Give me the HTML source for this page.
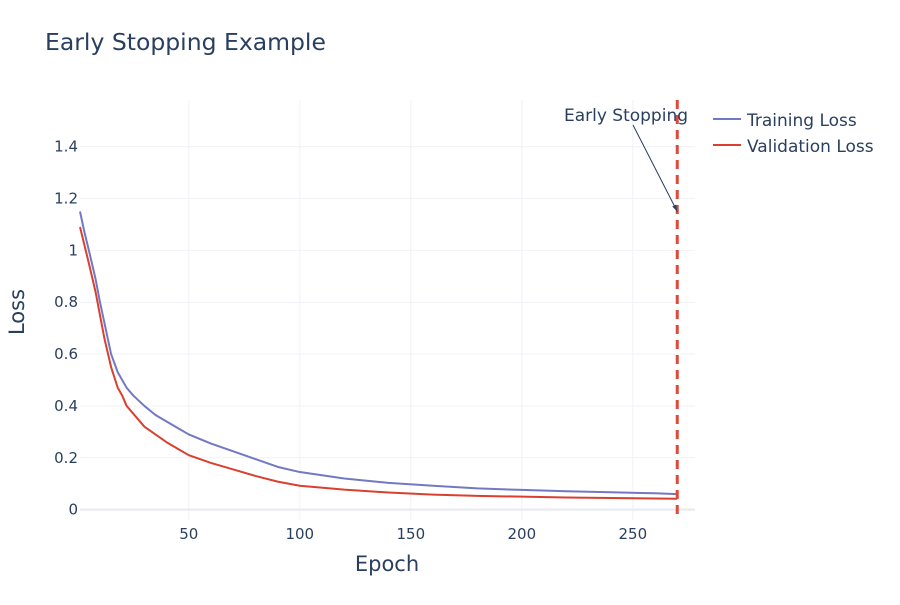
<!DOCTYPE html>
<html><head><meta charset="utf-8"><style>
body{margin:0;background:#fff;}
svg{font-family:"DejaVu Sans","Liberation Sans",sans-serif;}
</style></head><body>
<svg id="chart" width="900" height="600">
<rect width="900" height="600" fill="#fff"/>
<text x="45" y="50" font-size="23.5" fill="#2a3f5f">Early Stopping Example</text>
<g id="grid"></g>
<g id="series"></g>
<g id="axes"></g>
<text x="387" y="571" font-size="21" fill="#2a3f5f" text-anchor="middle">Epoch</text>
<text transform="translate(24,312) rotate(-90)" font-size="21" fill="#2a3f5f" text-anchor="middle">Loss</text>
<g>
<g>
<line x1="713" y1="119" x2="741" y2="119" stroke="#7279c2" stroke-width="2"/>
<text x="747" y="126" font-size="17" fill="#2a3f5f">Training Loss</text></g>
<g>
<line x1="713" y1="145" x2="741" y2="145" stroke="#d9402f" stroke-width="2"/>
<text x="747" y="152" font-size="17" fill="#2a3f5f">Validation Loss</text></g>
</g>
</svg>
<script>
const epochs=[1,3,5,8,10,12,15,18,20,22,25,30,35,40,45,50,60,70,80,90,100,120,140,160,180,200,220,240,260,270];
const trainLoss=[1.15,1.07,1.0,0.89,0.8,0.72,0.6,0.53,0.5,0.47,0.44,0.40,0.365,0.34,0.315,0.29,0.255,0.225,0.195,0.165,0.145,0.12,0.103,0.092,0.082,0.076,0.071,0.067,0.063,0.06];
const valLoss=[1.09,1.02,0.95,0.84,0.75,0.66,0.55,0.47,0.44,0.40,0.37,0.32,0.29,0.26,0.235,0.21,0.18,0.155,0.13,0.108,0.092,0.077,0.066,0.058,0.053,0.05,0.047,0.045,0.043,0.042];
const xTicks=[50,100,150,200,250];
const yTicks=[0,0.2,0.4,0.6,0.8,1,1.2,1.4];
const yTickLabels=["0","0.2","0.4","0.6","0.8","1","1.2","1.4"];
const stopEpoch=270;
const NS="http://www.w3.org/2000/svg";
const L=80,R=695,T=100,B=520;
const xMin=1,xMax=278,yMin=-0.04,yMax=1.58;
const xs=v=>L+(v-xMin)/(xMax-xMin)*(R-L);
const ys=v=>B-(v-yMin)/(yMax-yMin)*(B-T);
function mk(tag,attrs,parent){const e=document.createElementNS(NS,tag);for(const k in attrs)e.setAttribute(k,attrs[k]);parent.appendChild(e);return e;}
const grid=document.getElementById('grid'),axes=document.getElementById('axes'),ser=document.getElementById('series');
xTicks.forEach(t=>{
 const g=mk('line',{x1:xs(t),x2:xs(t),y1:T,y2:B,stroke:'#f0f2f6','stroke-width':1},grid);
 
 
 const lb=mk('text',{x:xs(t),y:B+19,'font-size':15,fill:'#2a3f5f','text-anchor':'middle'},axes);
 lb.textContent=t;
 
 
});
yTicks.forEach((t,i)=>{
 const g=mk('line',{x1:L,x2:R,y1:ys(t),y2:ys(t),stroke:t===0?'#e6e9ef':'#f0f2f6','stroke-width':t===0?2:1},grid);
 
 
 const lb=mk('text',{x:L-2,y:ys(t)+5,'font-size':15,fill:'#2a3f5f','text-anchor':'end'},axes);
 lb.textContent=yTickLabels[i];
 
 
});
function line(vals,color,name){
 const p=mk('polyline',{points:epochs.map((e,i)=>xs(e)+','+ys(vals[i])).join(' '),fill:'none',stroke:color,'stroke-width':2,'stroke-linejoin':'round'},ser);
 
 
}
line(trainLoss,'#7279c2','training-loss-line');
line(valLoss,'#d9402f','validation-loss-line');
const sx=xs(stopEpoch);
const dl=mk('line',{x1:sx,x2:sx,y1:T,y2:B,stroke:'#de4a3a','stroke-width':3,'stroke-dasharray':'9,6'},ser);


const ay=ys(trainLoss[0]);
const ar=mk('line',{x1:633,y1:125,x2:sx,y2:ay,stroke:'#2a3f5f','stroke-width':1},ser);


const ah=mk('polygon',{points:`${sx},${ay} ${sx-5},${ay-5} ${sx-1},${ay-7}`,fill:'#2a3f5f'},ser);


const at=mk('text',{x:626,y:121,'font-size':17,fill:'#2a3f5f','text-anchor':'middle'},ser);
at.textContent='Early Stopping';


</script>
</body></html>
